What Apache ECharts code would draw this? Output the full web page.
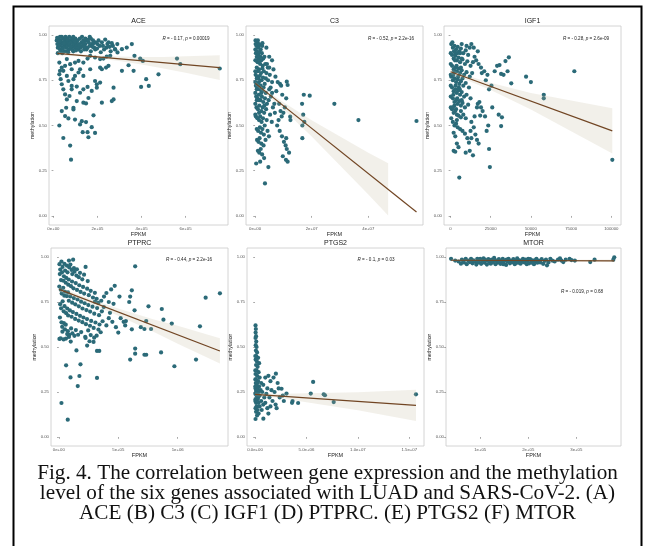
<!DOCTYPE html>
<html>
<head>
<meta charset="utf-8">
<script src="https://cdn.jsdelivr.net/npm/echarts@6/dist/echarts.min.js"></script>
<style>
html,body{margin:0;padding:0;background:#fff}
#chart{width:645px;height:546px}
</style>
</head>
<body>
<div id="chart"></div>
<script>
// panel names + correlation labels
const geneNames = ['ACE','C3','IGF1','PTPRC','PTGS2','MTOR'];
const statLabels = [
	'R = - 0.17, p = 0.00019',
	'R = - 0.52, p = 2.2e-16',
	'R = - 0.28, p = 2.6e-09',
	'R = - 0.44, p = 2.2e-16',
	'R = - 0.1, p = 0.03',
	'R = - 0.019, p = 0.68'
];
const captionLines = [
	'Fig. 4. The correlation between gene expression and the methylation',
	'level of the six genes associated with LUAD and SARS-CoV-2. (A)',
	'ACE (B) C3 (C) IGF1 (D) PTPRC. (E) PTGS2 (F) MTOR'
];

// y axis (methylation) ticks, same for all panels
const yTicks = [0,0.25,0.5,0.75,1];
const yTickLabels = ['0.00','0.25','0.50','0.75','1.00'];

// x axis (FPKM) ticks per panel
const aceTicks = [0,2e5,4e5,6e5];
const aceTickLabels = ['0e+00','2e+05','4e+05','6e+05'];
const c3Ticks = [0,2e7,4e7];
const c3TickLabels = ['0e+00','2e+07','4e+07'];
const igf1Ticks = [0,25000,50000,75000,100000];
const igf1TickLabels = ['0','25000','50000','75000','100000'];
const ptprcTicks = [0,5e5,1e6];
const ptprcTickLabels = ['0e+00','5e+05','1e+06'];
const ptgs2Ticks = [0,5e6,1e7,1.5e7];
const ptgs2TickLabels = ['0.0e+00','5.0e+06','1.0e+07','1.5e+07'];
const mtorTicks = [1e5,2e5,3e5];
const mtorTickLabels = ['1e+05','2e+05','3e+05'];

// [FPKM, methylation]
const acePoints = [
	[15000,.97],[18000,.95],[20000,.93],[22000,.98],[25000,.96],[27000,.94],[30000,.92],[32000,.97],[35000,.95],[38000,.99],
	[40000,.93],[42000,.96],[45000,.98],[48000,.94],[50000,.91],[52000,.97],[55000,.95],[58000,.93],[60000,.98],[62000,.96],
	[65000,.94],[68000,.97],[70000,.92],[72000,.99],[75000,.95],[78000,.97],[80000,.93],[83000,.96],[85000,.98],[88000,.94],
	[90000,.91],[93000,.97],[95000,.95],[98000,.93],[100000,.98],[103000,.96],[106000,.94],[110000,.97],[113000,.92],[116000,.95],
	[120000,.98],[124000,.93],[128000,.96],[132000,.94],[136000,.97],[140000,.92],[145000,.95],[150000,.97],[155000,.93],[160000,.96],
	[165000,.94],[170000,.91],[175000,.95],[180000,.97],[185000,.93],[190000,.92],[200000,.95],[210000,.94],[220000,.96],[230000,.92],
	[240000,.93],[250000,.96],[260000,.91],[270000,.94],[280000,.92],[290000,.95],
	[20000,.90],[30000,.99],[40000,.90],[60000,.91],[70000,.95],[90000,.99],[110000,.93],[130000,.99],[150000,.92],[170000,.98],
	[190000,.96],[35000,.91],[55000,.99],[85000,.92],[125000,.91],[145000,.98],[165000,.99],[205000,.97],[225000,.94],[245000,.95],
	[17000,.985],[28000,.965],[47000,.955],[63000,.975],[77000,.935],[97000,.965],[118000,.945],[138000,.955],[158000,.975],[178000,.935],
	[198000,.925],[215000,.905],[235000,.975],[255000,.935],[43000,.925],[67000,.905],[102000,.915],[142000,.935],[182000,.955],[265000,.955],
	[27000,.848],[38000,.820],[30000,.802],[53000,.830],[61000,.867],[76000,.839],[83000,.811],[98000,.848],[114000,.857],[136000,.848],
	[155000,.870],[167000,.885],[189000,.876],[212000,.867],[227000,.870],[242000,.881],[258000,.885],[280000,.922],[291000,.904],[311000,.922],
	[333000,.931],[356000,.950],
	[27000,.783],[33000,.756],[38000,.728],[45000,.700],[53000,.672],[61000,.644],[73000,.663],[83000,.719],[91000,.756],[98000,.774],
	[114000,.793],[121000,.811],[136000,.774],[155000,.713],[167000,.811],[189000,.746],[197000,.728],[212000,.820],[220000,.811],[239000,.820],
	[250000,.830],[273000,.709],[311000,.802],[341000,.833],[364000,.802],[394000,.870],[406000,.857],[477000,.783],[421000,.756],[433000,.719],
	[398000,.713],[368000,.885],[561000,.870],[576000,.839],[755000,.815],
	[27000,.500],[45000,.431],[76000,.389],[80000,.311],[68000,.539],[58000,.598],[38000,.580],[91000,.598],[106000,.635],[136000,.626],
	[148000,.622],[159000,.652],[174000,.691],[197000,.709],[212000,.737],[220000,.626],[265000,.635],[273000,.644],[129000,.524],[148000,.519],
	[174000,.491],[159000,.435],[189000,.459],[155000,.463],[182000,.556],[133000,.463],[98000,.533],[121000,.506],[53000,.552],[91000,.589],
	[106000,.715],[121000,.681],[136000,.700],[83000,.700],[68000,.746],[61000,.774],[45000,.802]
];
const c3Points = [
	[2e5,.95],[5e5,.94],[8e5,.955],[1.2e6,.93],[1.6e6,.945],[2.0e6,.92],[2.5e6,.94],[3e5,.9],[7e5,.91],[1.1e6,.89],
	[1.5e6,.905],[1.9e6,.88],[2.4e6,.9],[2.9e6,.87],[4e5,.86],[9e5,.85],[1.3e6,.87],[1.8e6,.84],[2.2e6,.86],[2.7e6,.83],
	[3.3e6,.88],[6e5,.82],[1.0e6,.8],[1.4e6,.81],[2.1e6,.79],[2.6e6,.815],[3.1e6,.8],[3.6e6,.84],[2e5,.78],[7e5,.77],
	[1.2e6,.76],[1.7e6,.775],[2.3e6,.75],[2.8e6,.765],[3.4e6,.73],[4.0e6,.79],[4.5e6,.82],[3e5,.72],[8e5,.71],[1.1e6,.73],
	[1.6e6,.7],[2.0e6,.72],[2.5e6,.69],[3.0e6,.71],[3.8e6,.68],[4.6e6,.75],[5.2e6,.78],[4e5,.66],[9e5,.65],[1.3e6,.67],
	[1.9e6,.64],[2.4e6,.66],[2.9e6,.63],[3.5e6,.65],[4.2e6,.62],[5.0e6,.7],[6.0e6,.74],[5e5,.6],[1.0e6,.59],[1.5e6,.61],
	[2.2e6,.58],[2.7e6,.6],[3.2e6,.57],[3.9e6,.59],[4.8e6,.64],[5.6e6,.66],[3e5,.55],[8e5,.54],[1.4e6,.53],[1.8e6,.55],
	[2.3e6,.52],[2.8e6,.54],[3.4e6,.5],[4.1e6,.53],[5.3e6,.56],[6.3e6,.6],[6e5,.48],[1.1e6,.47],[1.7e6,.49],[2.1e6,.46],
	[2.6e6,.48],[3.1e6,.45],[4.4e6,.47],[5.9e6,.52],[7.0e6,.57],[7e5,.42],[1.2e6,.41],[1.6e6,.43],[2.2e6,.4],[3.0e6,.39],
	[3.7e6,.42],[4.9e6,.44],[1.0e6,.36],[1.5e6,.35],[2.0e6,.37],[2.5e6,.34],[4e5,.29],[1.8e6,.3],[4.7e6,.27],[3.2e6,.32],
	[3.5e6,.18],[1.5e5,.97],[1.0e6,.97],[4e6,.93],[5e6,.88],[6e6,.86],[6.5e6,.81],[7.2e6,.77],[8e6,.74],[7.5e6,.69],
	[8.8e6,.73],[9.2e6,.72],[9.6e6,.67],[1.05e7,.6],[1.1e7,.65],[1.0e7,.57],[9.4e6,.55],[8.3e6,.53],[7.8e6,.5],[8.7e6,.47],
	[9.5e6,.44],[1.1e7,.43],[1.02e7,.41],[1.08e7,.39],[1.12e7,.37],[1.2e7,.35],[9.8e6,.33],[1.09e7,.31],[1.15e7,.3],[6.8e6,.62],
	[6e6,.68],[5.5e6,.71],[5e6,.82],[4.2e6,.84],[1.12e7,.742],[1.15e7,.724],[1.24e7,.549],[8.5e6,.62],[9e6,.58],[1.25e7,.53],
	[1.67e7,.43],[1.67e7,.5],[1.74e7,.52],[1.7e7,.56],[1.66e7,.62],[1.72e7,.67],[1.93e7,.665],[2.8e7,.62],[3.65e7,.53],[5.7e7,.525],
	[1e5,.92],[1e5,.86],[1e5,.8],[1e5,.74],[1e5,.68],[1e5,.62],[1e5,.56],[6e5,.88],[6e5,.76],[6e5,.7],
	[6e5,.64],[1.4e6,.95],[1.4e6,.85],[1.4e6,.74],[1.4e6,.64],[1.4e6,.57],[2.6e6,.955],[3.8e6,.76],[3.3e6,.61],[2.2e6,.68]
];
const igf1Points = [
	[500,.95],[1500,.93],[2500,.94],[3500,.92],[4500,.935],[5500,.91],[6500,.925],[8000,.9],[9500,.915],[11000,.89],
	[1000,.89],[2000,.87],[3000,.885],[4000,.86],[5000,.875],[6000,.85],[7500,.865],[9000,.84],[10500,.855],[12500,.83],
	[14000,.85],[1000,.83],[2000,.81],[3000,.82],[4000,.8],[5000,.815],[6000,.79],[7000,.805],[8500,.78],[10000,.795],
	[12000,.77],[13500,.79],[500,.77],[1500,.75],[2500,.76],[3500,.74],[4500,.755],[5500,.73],[6500,.745],[8000,.72],
	[9500,.735],[11500,.71],[1000,.71],[2000,.69],[3000,.7],[4000,.68],[5000,.695],[6000,.67],[7000,.685],[8500,.66],
	[10000,.67],[12500,.65],[1500,.65],[2500,.63],[3500,.64],[4500,.62],[5500,.635],[6500,.61],[7500,.625],[9000,.6],
	[11000,.615],[1000,.59],[2000,.57],[3000,.58],[4000,.56],[5000,.555],[6500,.545],[8000,.56],[9500,.54],[1500,.52],
	[2500,.5],[3500,.51],[4500,.49],[6000,.48],[7500,.47],[2000,.46],[3000,.44],[9000,.455],[10500,.43],[4000,.4],
	[5000,.38],[2000,.36],[3000,.355],[5500,.212],[9500,.35],[12000,.36],[14000,.335],[11500,.405],[13000,.43],[12500,.47],
	[14500,.49],[15500,.45],[16500,.42],[17500,.4],[13000,.52],[15000,.55],[16500,.6],[17000,.62],[18000,.63],[19000,.6],
	[20000,.58],[18500,.555],[21500,.55],[23500,.5],[22500,.47],[24000,.37],[24500,.27],[26000,.6],[24000,.7],[25500,.72],
	[23000,.78],[21000,.8],[19000,.82],[17500,.84],[16000,.86],[15000,.88],[17000,.91],[14500,.93],[12000,.93],[19500,.79],
	[22000,.75],[27500,.8],[29000,.83],[30500,.834],[31500,.785],[33000,.78],[34200,.856],[35500,.8],[36300,.877],[37800,.733],
	[30000,.56],[31500,.497],[32000,.545],[47000,.77],[50000,.74],[58000,.67],[58000,.65],[77000,.80],[100600,.31],[7000,.95],
	[10000,.94],[13000,.95],
	[200,.9],[200,.84],[200,.78],[200,.72],[200,.66],[200,.6],[1200,.96],[2200,.91],[3200,.9],[4200,.9],
	[2800,.86],[3800,.83],[2500,.8],[4800,.77],[1800,.78],[3200,.72],[5200,.71],[1800,.67],[4200,.65],[2500,.61],
	[3500,.59],[6000,.9],[7000,.87],[6500,.82],[7500,.76],[5800,.7],[7000,.64],[6500,.58],[500,.54],[1500,.6],[4000,.53]
];
const ptprcPoints = [
	[5000,.96],[12000,.93],[22000,.975],[31000,.945],[47000,.962],[53000,.925],[68000,.952],[73000,.915],[88000,.942],[97000,.958],
	[108000,.928],[113000,.905],[127000,.938],[132000,.918],[148000,.897],[152000,.932],[168000,.888],[178000,.912],[197000,.876],[212000,.902],
	[225000,.945],[243000,.866],[85000,.98],[120000,.985],
	[8000,.905],[18000,.872],[27000,.915],[38000,.868],[43000,.893],[58000,.857],[62000,.884],[79000,.846],[83000,.875],[102000,.838],
	[111000,.864],[123000,.826],[142000,.855],[153000,.817],[172000,.843],[183000,.806],[204000,.834],[213000,.797],[238000,.824],[252000,.788],
	[268000,.812],[287000,.775],[303000,.801],[318000,.768],
	[4000,.836],[16000,.818],[24000,.797],[37000,.829],[46000,.785],[52000,.807],[67000,.783],[77000,.803],[84000,.757],[96000,.781],
	[112000,.746],[126000,.772],[138000,.737],[157000,.764],[168000,.726],[187000,.752],[199000,.714],[217000,.743],[232000,.705],[248000,.733],
	[263000,.697],[283000,.724],[298000,.685],[322000,.716],[338000,.677],[362000,.698],[378000,.722],[357000,.757],[332000,.745],[304000,.752],
	[11000,.738],[19000,.715],[32000,.754],[41000,.698],[48000,.727],[62000,.688],[71000,.714],[78000,.675],[93000,.703],[107000,.668],
	[118000,.694],[137000,.656],[148000,.684],[167000,.647],[178000,.673],[198000,.638],[207000,.664],[228000,.627],[237000,.655],[262000,.618],
	[272000,.645],[293000,.606],[308000,.636],[333000,.597],[342000,.625],[368000,.643],
	[9000,.664],[22000,.637],[28000,.612],[42000,.633],[51000,.598],[58000,.624],[76000,.588],[88000,.567],[103000,.603],[114000,.576],
	[131000,.562],[143000,.594],[162000,.568],[188000,.583],[222000,.557],[247000,.592],[268000,.566],[297000,.552],[318000,.563],[352000,.582],
	[258000,.532],[292000,.528],[238000,.508],[5000,.545],[15000,.548],[40000,.542],[60000,.547],[70000,.572],[85000,.556],[30000,.585],
	[100000,.53],[225000,.55],
	[642000,.948],[614000,.815],[600000,.78],[592000,.75],[637000,.704],[564000,.644],[558000,.62],[614000,.598],[690000,.61],[735000,.644],
	[754000,.726],[720000,.6],[776000,.6],[866000,.711],[880000,.652],[950000,.63],[1187000,.615],[1235000,.774],[1355000,.798],[1154000,.43],
	[972000,.393],[860000,.47],[735000,.457],[720000,.457],[642000,.491],[642000,.463],[600000,.43],[321000,.478],[340000,.478],[321000,.328],
	[148000,.481],[182000,.404],[173000,.339],[159000,.283],[98000,.331],[61000,.398],[22000,.189],[75000,.096],[400000,.62],[420000,.66],
	[450000,.64],[480000,.61],[500000,.58],[430000,.69],[460000,.74],[520000,.66],[545000,.64],[380000,.78],[400000,.8],[440000,.82],
	[470000,.84],[510000,.78],[420000,.75]
];
const ptgs2Points = [
	[5e4,.62],[8e4,.6],[6e4,.58],[1e5,.56],[5e4,.55],[1.2e5,.53],[7e4,.51],[1.5e5,.5],[9e4,.48],[2e5,.47],
	[1.2e5,.45],[3e5,.44],[6e4,.43],[1.8e5,.42],[4e5,.41],[1e5,.4],[2.5e5,.39],[1.5e5,.37],[3.5e5,.36],[5e4,.35],
	[2e5,.34],[4.5e5,.33],[1e5,.32],[3e5,.31],[6e5,.3],[1.5e5,.29],[4e5,.28],[8e5,.29],[5e4,.27],[2.5e5,.27],
	[5.5e5,.26],[1e5,.25],[3.5e5,.25],[7e5,.25],[1.5e5,.23],[4.5e5,.23],[9e5,.22],[5e4,.21],[2.5e5,.21],[6e5,.2],
	[1e5,.19],[3.5e5,.19],[8e5,.18],[1.5e5,.17],[4.5e5,.17],[5e4,.16],[2.5e5,.15],[6.5e5,.15],[1e5,.14],[3.5e5,.13],
	[2e5,.12],[5e4,.1],[2e5,.24],[3e5,.22],[1.2e5,.26],[7.5e4,.3],[2.2e5,.3],[3e4,.2],[3e4,.24],[3e4,.28],
	[3e4,.32],[3e4,.37],[3e4,.45],
	[1.0e6,.33],[1.3e6,.34],[1.5e6,.31],[1.8e6,.33],[2.03e6,.352],[2.2e6,.3],[1.2e6,.27],[1.6e6,.26],[2.58e6,.268],[2.4e6,.22],
	[3.06e6,.241],[2.8e6,.2],[3.65e6,.2],[3.6e6,.19],[4.19e6,.189],[5.42e6,.241],[5.65e6,.306],[6.68e6,.237],[6.8e6,.232],[7.65e6,.194],
	[1.565e7,.237],[8.1e5,.102],[1.1e6,.24],[1.4e6,.22],[1.7e6,.2],[2.0e6,.18],[1.9e6,.25],[1.0e6,.19],[1.2e6,.16],[1.5e6,.17],
	[2.1e6,.16],[1.3e6,.13],[2.3e6,.27],[2.7e6,.23]
];
const mtorPoints = [
	[39400,.99],[48000,.98],[55000,.975],[60000,.963],[62000,.985],[66000,.97],[70000,.99],[72000,.96],[75000,.98],[78000,.972],
	[81000,.99],[84000,.965],[86000,.982],[89000,.975],[92000,.958],[94000,.99],[97000,.97],[99000,.985],[102000,.962],[104000,.978],
	[107000,.992],[109000,.968],[112000,.98],[114000,.958],[117000,.988],[119000,.972],[122000,.963],[124000,.985],[127000,.975],[129000,.995],
	[132000,.96],[134000,.98],[137000,.97],[139000,.988],[142000,.962],[144000,.978],[147000,.99],[149000,.967],[152000,.982],[154000,.956],
	[157000,.975],[159000,.99],[162000,.965],[164000,.98],[167000,.972],[169000,.988],[172000,.96],[174000,.978],[177000,.993],[179000,.968],
	[182000,.982],[184000,.963],[187000,.975],[189000,.99],[192000,.97],[194000,.985],[197000,.96],[199000,.978],[202000,.965],[204000,.988],
	[207000,.972],[209000,.982],[212000,.96],[214000,.975],[217000,.99],[219000,.968],[222000,.98],[225000,.97],[228000,.988],[231000,.962],
	[234000,.978],[237000,.985],[239000,.954],[242000,.97],[246000,.99],[250000,.98],[255000,.975],[262000,.985],[266000,.993],[269000,.98],
	[273000,.972],[278000,.985],[286000,.99],[290000,.983],[297000,.98],[329000,.972],[338000,.985],[377000,.985],[379000,.998],
	[65000,.978],[80000,.975],[95000,.975],[110000,.985],[125000,.97],[140000,.975],[155000,.985],[170000,.975],[185000,.97],[200000,.99],
	[215000,.983],[100000,.99],[130000,.985],[160000,.978],[190000,.98],[210000,.965],[118000,.978],[148000,.96],[176000,.97]
];

// regression line ends and confidence band [FPKM, lower, upper]
const aceFit = [[18000,.899],[755000,.82]];
const aceBand = [[18000,.889,.909],[100000,.883,.897],[200000,.871,.887],[300000,.856,.882],[400000,.837,.879],[500000,.815,.879],[600000,.791,.883],[755000,.752,.888]];
const c3Fit = [[1e5,.733],[5.7e7,.022]];
const c3Band = [[1e5,.721,.745],[5e6,.658,.682],[1e7,.588,.628],[2e7,.439,.529],[3e7,.279,.439],[4e7,.119,.349],[4.7e7,.002,.292]];
const igf1Fit = [[100,.797],[100600,.47]];
const igf1Band = [[100,.782,.812],[10000,.752,.776],[25000,.696,.736],[50000,.589,.679],[75000,.468,.638],[100600,.345,.595]];
const ptprcFit = [[3000,.82],[1355000,.478]];
const ptprcBand = [[3000,.805,.835],[200000,.758,.782],[500000,.674,.714],[800000,.583,.653],[1000000,.518,.618],[1355000,.408,.548]];
const ptgs2Fit = [[0,.237],[1.565e7,.176]];
const ptgs2Band = [[0,.227,.247],[2e6,.219,.239],[5e6,.193,.243],[1e7,.148,.248],[1.565e7,.089,.263]];
const mtorFit = [[39400,.982],[379000,.979]];
const mtorBand = [[39400,.976,.988],[200000,.978,.984],[379000,.972,.986]];

const allPoints = [acePoints,c3Points,igf1Points,ptprcPoints,ptgs2Points,mtorPoints];
const allFits = [aceFit,c3Fit,igf1Fit,ptprcFit,ptgs2Fit,mtorFit];
const allBands = [aceBand,c3Band,igf1Band,ptprcBand,ptgs2Band,mtorBand];
const allTicks = [aceTicks,c3Ticks,igf1Ticks,ptprcTicks,ptgs2Ticks,mtorTicks];
const allTickLabels = [aceTickLabels,c3TickLabels,igf1TickLabels,ptprcTickLabels,ptgs2TickLabels,mtorTickLabels];

// layout
const grids = [
	{left:49,top:26,width:179,height:199},
	{left:246,top:26,width:177,height:199},
	{left:444,top:26,width:177,height:199},
	{left:51,top:248,width:177,height:198},
	{left:247,top:248,width:177,height:198},
	{left:446,top:248,width:175,height:198}
];
const xRanges = [[-20000,792500],[-3.2e6,5.93e7],[-4000,106000],[-66000,1423000],[-7.8e5,1.643e7],[28900,393000]];
const statPos = [[186,39],[391,39],[586,39],[189,260],[376,260],[582,292]];

const SANS = '"Liberation Sans", Arial, sans-serif';
const POINT = '#2b6a78';
const LINE = '#714523';

function lookup(ticks,labels,v){
	for(let i=0;i<ticks.length;i++){
		if(Math.abs(ticks[i]-v) <= Math.abs(ticks[ticks.length-1]||1)*1e-9+1e-12) return labels[i];
	}
	return '';
}

function bandSeries(band,idx){
	return {
		type:'custom',
		xAxisIndex:idx,yAxisIndex:idx,
		data:[[band[0][0],band[0][1]]],
		silent:true,
		z:3,
		renderItem:function(params,api){
			let pts = [];
			band.forEach(b=>pts.push(api.coord([b[0],b[2]])));
			for(let i=band.length-1;i>=0;i--){
				pts.push(api.coord([band[i][0],band[i][1]]));
			}
			return {type:'polygon',shape:{points:pts},style:{fill:'rgba(190,180,150,0.2)'}};
		}
	};
}

let grid = [], xAxis = [], yAxis = [], series = [], graphic = [];

grids.forEach((g,i)=>{
	grid.push(Object.assign({show:true,borderColor:'#c9c9c9',borderWidth:0.8,backgroundColor:'#fff'},g));
	let ticks = allTicks[i], labels = allTickLabels[i];
	xAxis.push({
		type:'value',gridIndex:i,min:xRanges[i][0],max:xRanges[i][1],
		name:'FPKM',nameLocation:'middle',nameGap:6,
		nameTextStyle:{fontSize:5.5,color:'#1a1a1a',fontFamily:SANS},
		axisLine:{show:false},splitLine:{show:false},
		axisTick:{show:true,length:1.8,customValues:ticks,lineStyle:{color:'#555',width:0.5}},
		axisLabel:{customValues:ticks,fontSize:4.3,color:'#555',margin:2,fontFamily:SANS,
			formatter:v=>lookup(ticks,labels,v)}
	});
	yAxis.push({
		type:'value',gridIndex:i,min:-0.05,max:1.05,
		name:'methylation',nameLocation:'middle',nameGap:9,nameRotate:90,
		nameTextStyle:{fontSize:5.3,color:'#1a1a1a',fontFamily:SANS},
		axisLine:{show:false},splitLine:{show:false},
		axisTick:{show:true,length:1.8,customValues:yTicks,lineStyle:{color:'#555',width:0.5}},
		axisLabel:{customValues:yTicks,fontSize:4.3,color:'#555',margin:2,fontFamily:SANS,
			formatter:v=>lookup(yTicks,yTickLabels,v)}
	});
	series.push({
		type:'scatter',xAxisIndex:i,yAxisIndex:i,data:allPoints[i],
		symbolSize:4.2,itemStyle:{color:POINT,opacity:1},z:2,silent:true
	});
	series.push(bandSeries(allBands[i],i));
	series.push({
		type:'line',xAxisIndex:i,yAxisIndex:i,data:allFits[i],
		showSymbol:false,symbol:'none',lineStyle:{color:LINE,width:1.2},z:4,silent:true
	});
	// panel title
	graphic.push({
		type:'text',x:g.left+g.width/2,y:g.top-5,
		style:{text:geneNames[i],fontSize:7,fontFamily:SANS,fill:'#1a1a1a',align:'center',verticalAlign:'middle'}
	});
	// R / p label
	graphic.push({
		type:'text',x:statPos[i][0],y:statPos[i][1],
		style:{
			text:statLabels[i].replace(/^R /,'{i|R} ').replace(/ p =/,' {i|p} ='),
			fontSize:4.6,fontFamily:SANS,fill:'#222',align:'center',verticalAlign:'middle',
			rich:{i:{fontStyle:'italic',fontSize:4.6,fontFamily:SANS,fill:'#222'}}
		}
	});
});

captionLines.forEach((t,k)=>{
	graphic.push({
		type:'text',x:327.5,y:473+k*20,
		style:{text:t,fontSize:21.2,fontFamily:'"Liberation Serif","Times New Roman",serif',fill:'#111',align:'center',verticalAlign:'middle'}
	});
});
graphic.push({
	type:'rect',shape:{x:13.5,y:6.5,width:628,height:545},
	style:{fill:null,stroke:'#000',lineWidth:2},z:100
});

let myChart = echarts.init(document.getElementById('chart'),null,{renderer:'canvas'});
myChart.setOption({
	animation:false,
	backgroundColor:'#fff',
	grid:grid,
	xAxis:xAxis,
	yAxis:yAxis,
	series:series,
	graphic:graphic
});
</script>
</body>
</html>
